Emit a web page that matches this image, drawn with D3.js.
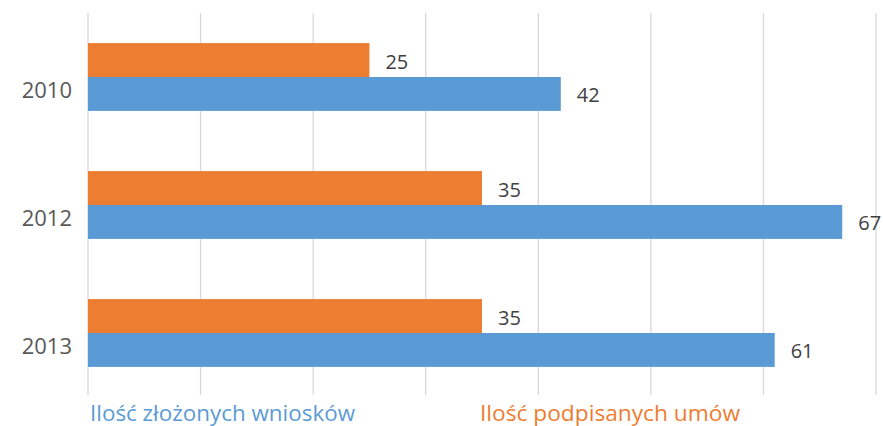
<!DOCTYPE html>
<html><head><meta charset="utf-8">
<script src="https://cdn.jsdelivr.net/npm/d3@7"></script>
<style>body{margin:0;background:#fff}svg{display:block}text{font-family:"Open Sans","Noto Sans",sans-serif}</style>
</head><body>
<svg id="c" width="883" height="426"></svg>
<script>
const categories = ["2010", "2012", "2013"];
const seriesNames = ["Ilość podpisanych umów", "Ilość złożonych wniosków"];
const umowy = [25, 35, 35];
const wnioski = [42, 67, 61];
const xTicks = [0, 10, 20, 30, 40, 50, 60, 70];
const colors = {"Ilość podpisanych umów": "#ED7D31", "Ilość złożonych wniosków": "#5B9BD5"};

const svg = d3.select("#c");
const x = d3.scaleLinear().domain([0, 70]).range([88, 876]);
const y = d3.scaleBand().domain(categories).range([13, 397]).paddingInner(0.47).paddingOuter(0.235);
const ys = d3.scaleBand().domain(seriesNames).range([0, y.bandwidth()]);

svg.append("g").selectAll("line").data(xTicks).join("line")
  .attr("x1", d => x(d)).attr("x2", d => x(d)).attr("y1", 13).attr("y2", 395)
  .attr("stroke", "#d9d9d9").attr("stroke-width", 1.3);

const data = [];
categories.forEach((c, i) => {
  data.push({c, s: seriesNames[0], v: umowy[i]});
  data.push({c, s: seriesNames[1], v: wnioski[i]});
});

svg.append("g").selectAll("rect").data(data).join("rect")
  .attr("x", x(0)).attr("y", d => y(d.c) + ys(d.s))
  .attr("width", d => x(d.v) - x(0)).attr("height", ys.bandwidth())
  .attr("fill", d => colors[d.s]);

svg.append("g").selectAll("text").data(data).join("text")
  .attr("x", d => x(d.v) + 16).attr("y", d => y(d.c) + ys(d.s) + ys.bandwidth() / 2 + 1.5)
  .attr("dy", "0.35em").attr("font-size", 20).attr("fill", "#404040")
  .text(d => d.v);

svg.append("g").selectAll("text").data(categories).join("text")
  .attr("x", 72).attr("y", d => y(d) + y.bandwidth() / 2 + 13.5).attr("dy", "0.35em")
  .attr("text-anchor", "end").attr("font-size", 22).attr("fill", "#595959")
  .text(d => d);

const legend = [{s: seriesNames[1], x: 90, w: 265}, {s: seriesNames[0], x: 480, w: 260}];
svg.append("g").selectAll("text").data(legend).join("text")
  .attr("x", d => d.x).attr("y", 421).attr("font-size", 21)
  .attr("textLength", d => d.w).attr("lengthAdjust", "spacingAndGlyphs")
  .attr("fill", d => colors[d.s]).text(d => d.s);
</script>
</body></html>
